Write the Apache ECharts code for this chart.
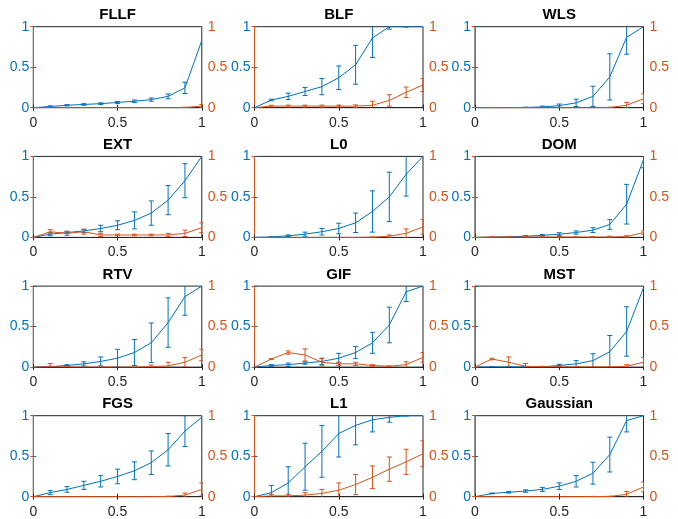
<!DOCTYPE html>
<html>
<head>
<meta charset="utf-8">
<script src="https://cdn.jsdelivr.net/npm/echarts@6/dist/echarts.min.js"></script>
<style>html,body{margin:0;padding:0;background:#fff;}#c{width:678px;height:519px;}</style>
</head>
<body>
<div id="c"></div>
<script>
// x positions of samples
const xs = [0, 0.1, 0.2, 0.3, 0.4, 0.5, 0.6, 0.7, 0.8, 0.9, 1.0];
const xTicks = [0, 0.5, 1];
const yTicks = [0, 0.5, 1];

// per-method data: blue (left axis) mean + error half-width, orange (right axis) mean + error half-width
const FLLF_blue      = [0, 0.015, 0.03, 0.04, 0.05, 0.065, 0.08, 0.1, 0.14, 0.245, 0.83];
const FLLF_blueErr   = [0, 0.008, 0.008, 0.01, 0.01, 0.012, 0.015, 0.02, 0.03, 0.07, 0];
const FLLF_orange    = [0, 0, 0, 0, 0, 0, 0, 0, 0, 0.002, 0.02];
const FLLF_orangeErr = [0, 0.002, 0.002, 0.002, 0.002, 0.002, 0.002, 0.002, 0.002, 0.005, 0.02];

const BLF_blue      = [0, 0.095, 0.14, 0.2, 0.26, 0.37, 0.53, 0.86, 1.0, 1.0, 1.0];
const BLF_blueErr   = [0, 0.01, 0.04, 0.05, 0.1, 0.145, 0.24, 0.24, 0.03, 0.005, 0];
const BLF_orange    = [0, 0.02, 0.02, 0.02, 0.02, 0.02, 0.02, 0.03, 0.09, 0.19, 0.28];
const BLF_orangeErr = [0, 0.01, 0.012, 0.012, 0.012, 0.012, 0.015, 0.05, 0.07, 0.065, 0.08];

const WLS_blue      = [0, 0, 0, 0.003, 0.01, 0.025, 0.06, 0.14, 0.38, 0.87, 1.0];
const WLS_blueErr   = [0, 0, 0, 0.003, 0.01, 0.02, 0.045, 0.125, 0.285, 0.21, 0];
const WLS_orange    = [0, 0, 0, 0, 0, 0, 0, 0, 0.003, 0.03, 0.11];
const WLS_orangeErr = [0, 0.002, 0, 0, 0, 0, 0, 0, 0.003, 0.035, 0.06];

const EXT_blue      = [0, 0.04, 0.06, 0.08, 0.11, 0.15, 0.21, 0.3, 0.46, 0.7, 1.0];
const EXT_blueErr   = [0, 0.02, 0.015, 0.02, 0.04, 0.055, 0.105, 0.15, 0.18, 0.21, 0];
const EXT_orange    = [0, 0.07, 0.05, 0.07, 0.03, 0.03, 0.03, 0.03, 0.03, 0.05, 0.12];
const EXT_orangeErr = [0, 0.025, 0.025, 0.03, 0.02, 0.01, 0.01, 0.01, 0.02, 0.04, 0.06];

const L0_blue      = [0, 0.005, 0.02, 0.04, 0.07, 0.11, 0.18, 0.32, 0.5, 0.78, 1.0];
const L0_blueErr   = [0, 0.004, 0.01, 0.025, 0.04, 0.065, 0.12, 0.255, 0.305, 0.27, 0];
const L0_orange    = [0, 0, 0, 0, 0, 0, 0, 0.003, 0.015, 0.05, 0.13];
const L0_orangeErr = [0, 0, 0, 0, 0, 0, 0, 0.003, 0.015, 0.055, 0.09];

const DOM_blue      = [0, 0.003, 0.008, 0.015, 0.025, 0.04, 0.06, 0.09, 0.16, 0.41, 0.96];
const DOM_blueErr   = [0, 0.002, 0.004, 0.006, 0.01, 0.018, 0.02, 0.03, 0.06, 0.245, 0.1];
const DOM_orange    = [0, 0.005, 0.005, 0.005, 0.005, 0.005, 0.005, 0.005, 0.005, 0.01, 0.06];
const DOM_orangeErr = [0, 0.003, 0.003, 0.003, 0.003, 0.003, 0.003, 0.005, 0.01, 0.01, 0.02];

const RTV_blue      = [0, 0.005, 0.02, 0.04, 0.07, 0.11, 0.18, 0.3, 0.55, 0.87, 1.0];
const RTV_blueErr   = [0, 0.005, 0.01, 0.025, 0.055, 0.11, 0.16, 0.245, 0.305, 0.23, 0];
const RTV_orange    = [0, 0.005, 0.002, 0, 0, 0, 0, 0.005, 0.015, 0.06, 0.15];
const RTV_orangeErr = [0, 0.04, 0.002, 0, 0, 0, 0, 0.02, 0.045, 0.06, 0.07];

const GIF_blue      = [0, 0.02, 0.03, 0.05, 0.07, 0.11, 0.18, 0.3, 0.52, 0.93, 1.0];
const GIF_blueErr   = [0, 0.01, 0.02, 0.015, 0.04, 0.06, 0.075, 0.13, 0.22, 0.12, 0];
const GIF_orange    = [0, 0.1, 0.18, 0.15, 0.06, 0.04, 0.04, 0.02, 0.01, 0.03, 0.12];
const GIF_orangeErr = [0, 0.005, 0.02, 0.075, 0.045, 0.02, 0.02, 0.01, 0.005, 0.035, 0.06];

const MST_blue      = [0, 0.002, 0.002, 0.002, 0.003, 0.02, 0.04, 0.08, 0.19, 0.44, 0.98];
const MST_blueErr   = [0, 0.002, 0.002, 0.002, 0.003, 0.015, 0.04, 0.085, 0.2, 0.305, 0];
const MST_orange    = [0, 0.1, 0.06, 0.01, 0.005, 0.003, 0.002, 0.002, 0.002, 0.01, 0.06];
const MST_orangeErr = [0, 0.01, 0.065, 0.035, 0.005, 0.003, 0.002, 0.002, 0.002, 0.02, 0.06];

const FGS_blue      = [0, 0.05, 0.09, 0.14, 0.19, 0.25, 0.32, 0.42, 0.58, 0.81, 0.98];
const FGS_blueErr   = [0, 0.025, 0.035, 0.05, 0.07, 0.09, 0.11, 0.145, 0.2, 0.19, 0];
const FGS_orange    = [0, 0, 0, 0, 0, 0, 0, 0, 0.003, 0.02, 0.09];
const FGS_orangeErr = [0, 0, 0, 0, 0, 0, 0, 0, 0.003, 0.025, 0.08];

const L1_blue      = [0, 0.05, 0.17, 0.37, 0.56, 0.78, 0.88, 0.95, 0.98, 1.0, 1.0];
const L1_blueErr   = [0, 0.09, 0.2, 0.29, 0.32, 0.29, 0.24, 0.15, 0.06, 0.005, 0];
const L1_orange    = [0, 0.01, 0.01, 0.02, 0.04, 0.08, 0.15, 0.24, 0.34, 0.43, 0.53];
const L1_orangeErr = [0, 0.02, 0.02, 0.03, 0.05, 0.09, 0.125, 0.14, 0.15, 0.155, 0.16];

const Gaussian_blue      = [0, 0.04, 0.055, 0.07, 0.09, 0.13, 0.19, 0.29, 0.52, 0.94, 1.0];
const Gaussian_blueErr   = [0, 0.005, 0.01, 0.015, 0.025, 0.04, 0.07, 0.135, 0.215, 0.14, 0];
const Gaussian_orange    = [0, 0, 0, 0, 0, 0, 0, 0.002, 0.003, 0.03, 0.12];
const Gaussian_orangeErr = [0, 0, 0, 0, 0, 0, 0, 0.002, 0.003, 0.035, 0.06];

const titles = ['FLLF', 'BLF', 'WLS', 'EXT', 'L0', 'DOM', 'RTV', 'GIF', 'MST', 'FGS', 'L1', 'Gaussian'];
const blueSets = [FLLF_blue, BLF_blue, WLS_blue, EXT_blue, L0_blue, DOM_blue, RTV_blue, GIF_blue, MST_blue, FGS_blue, L1_blue, Gaussian_blue];
const blueErrSets = [FLLF_blueErr, BLF_blueErr, WLS_blueErr, EXT_blueErr, L0_blueErr, DOM_blueErr, RTV_blueErr, GIF_blueErr, MST_blueErr, FGS_blueErr, L1_blueErr, Gaussian_blueErr];
const orangeSets = [FLLF_orange, BLF_orange, WLS_orange, EXT_orange, L0_orange, DOM_orange, RTV_orange, GIF_orange, MST_orange, FGS_orange, L1_orange, Gaussian_orange];
const orangeErrSets = [FLLF_orangeErr, BLF_orangeErr, WLS_orangeErr, EXT_orangeErr, L0_orangeErr, DOM_orangeErr, RTV_orangeErr, GIF_orangeErr, MST_orangeErr, FGS_orangeErr, L1_orangeErr, Gaussian_orangeErr];

const BLUE = '#0072BD';
const ORANGE = '#D95319';
const AXC = '#262626';
const FONT = '"Liberation Sans", Arial, Helvetica, sans-serif';

const colLeft = [33.3, 254.5, 475];
const rowTop = [26.7, 156.4, 286.1, 415.7];
const gw = 168.5, gh = 81;

function errRender(color) {
  return function (params, api) {
    const xv = api.value(0), yv = api.value(1), e = api.value(2);
    if (!(e > 0)) return null;
    const lo = api.coord([xv, yv - e]);
    const hi = api.coord([xv, yv + e]);
    const cw = 2.5;
    const st = { stroke: color, lineWidth: 1 };
    return {
      type: 'group',
      children: [
        { type: 'line', shape: { x1: lo[0], y1: lo[1], x2: hi[0], y2: hi[1] }, style: st },
        { type: 'line', shape: { x1: lo[0] - cw, y1: lo[1], x2: lo[0] + cw, y2: lo[1] }, style: st },
        { type: 'line', shape: { x1: hi[0] - cw, y1: hi[1], x2: hi[0] + cw, y2: hi[1] }, style: st }
      ]
    };
  };
}

const grid = [], xAxis = [], yAxis = [], series = [], title = [];
titles.forEach((name, i) => {
  const r = Math.floor(i / 3), c = i % 3;
  grid.push({ left: colLeft[c], top: rowTop[r], width: gw, height: gh, show: true, borderColor: AXC, borderWidth: 1, backgroundColor: 'transparent' });
  title.push({ text: name, left: colLeft[c] + gw / 2, top: rowTop[r] - 19, textAlign: 'center', padding: 0,
    textStyle: { fontSize: 15, fontWeight: 'bold', color: '#000', fontFamily: FONT } });
  const xb = xAxis.length;
  xAxis.push({ type: 'value', gridIndex: i, min: xTicks[0], max: xTicks[xTicks.length - 1], interval: 0.5, position: 'bottom',
    axisLine: { show: true, lineStyle: { color: AXC, width: 1 } },
    axisTick: { show: true, inside: true, length: 3, lineStyle: { color: AXC } },
    axisLabel: { show: true, color: AXC, fontSize: 14, fontFamily: FONT, margin: 8 },
    splitLine: { show: false } });
  xAxis.push({ type: 'value', gridIndex: i, min: 0, max: 1, interval: 0.5, position: 'top',
    axisLine: { show: true, lineStyle: { color: AXC, width: 1 } },
    axisTick: { show: true, inside: true, length: 3, lineStyle: { color: AXC } },
    axisLabel: { show: false }, splitLine: { show: false } });
  const yl = yAxis.length;
  yAxis.push({ type: 'value', gridIndex: i, min: yTicks[0], max: yTicks[yTicks.length - 1], interval: 0.5, position: 'left',
    axisLine: { show: true, lineStyle: { color: BLUE, width: 1 } },
    axisTick: { show: true, inside: true, length: 3, lineStyle: { color: BLUE } },
    axisLabel: { show: true, color: BLUE, fontSize: 14, fontFamily: FONT, margin: 4 },
    splitLine: { show: false } });
  yAxis.push({ type: 'value', gridIndex: i, min: 0, max: 1, interval: 0.5, position: 'right',
    axisLine: { show: true, lineStyle: { color: ORANGE, width: 1 } },
    axisTick: { show: true, inside: true, length: 3, lineStyle: { color: ORANGE } },
    axisLabel: { show: true, color: ORANGE, fontSize: 14, fontFamily: FONT, margin: 6 },
    splitLine: { show: false } });
  const b = blueSets[i], be = blueErrSets[i], o = orangeSets[i], oe = orangeErrSets[i];
  series.push({ type: 'line', xAxisIndex: xb, yAxisIndex: yl, data: xs.map((x, k) => [x, b[k]]),
    showSymbol: false, symbol: 'none', lineStyle: { color: BLUE, width: 1 }, clip: true, z: 2 });
  series.push({ type: 'custom', xAxisIndex: xb, yAxisIndex: yl, data: xs.map((x, k) => [x, b[k], be[k]]),
    renderItem: errRender(BLUE), clip: true, z: 2 });
  series.push({ type: 'line', xAxisIndex: xb, yAxisIndex: yl + 1, data: xs.map((x, k) => [x, o[k]]),
    showSymbol: false, symbol: 'none', lineStyle: { color: ORANGE, width: 1 }, clip: true, z: 3 });
  series.push({ type: 'custom', xAxisIndex: xb, yAxisIndex: yl + 1, data: xs.map((x, k) => [x, o[k], oe[k]]),
    renderItem: errRender(ORANGE), clip: true, z: 3 });
});

const chart = echarts.init(document.getElementById('c'), null, { renderer: 'canvas' });
chart.setOption({ animation: false, backgroundColor: '#fff', textStyle: { fontFamily: FONT }, title, grid, xAxis, yAxis, series });
</script>
</body>
</html>
